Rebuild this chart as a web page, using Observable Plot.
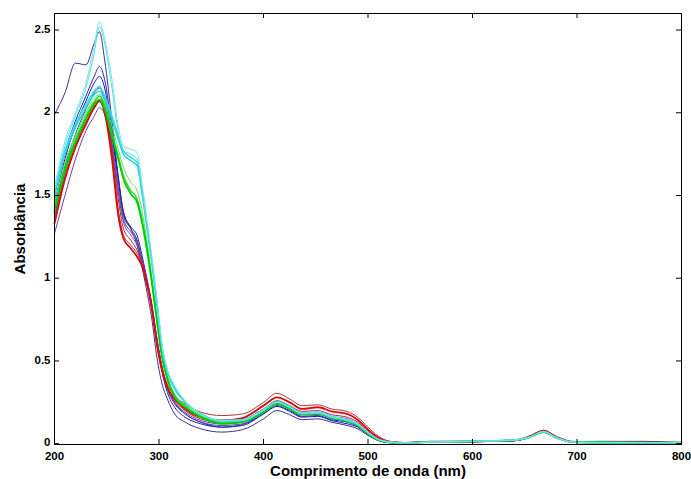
<!DOCTYPE html>
<html>
<head>
<meta charset="utf-8">
<script src="https://cdn.jsdelivr.net/npm/d3@7"></script>
<script src="https://cdn.jsdelivr.net/npm/@observablehq/plot@0.6"></script>
<style>
  html, body { margin: 0; padding: 0; background: white; }
</style>
</head>
<body>
<div id="chart"></div>
<script>
// Wavelength grid (nm)
const wavelengths = [200,210,220,230,238, 243,248,255,261,266, 273,279,284,289,293, 298,303,308,315,325,
  340,360,380,400,413, 425,437,452,465,480, 490,500,510,520,535, 560,600,640,655,668, 680,695,720,765,800];

// Absorbance spectra
const R1 = [1.33,1.60,1.79,1.93,2.03, 2.07,2.00,1.72,1.38,1.24, 1.18,1.13,1.07,0.95,0.82, 0.60,0.44,0.34,0.27,0.21, 0.16,0.14,0.155,0.23,0.28, 0.25,0.21,0.22,0.195,0.18, 0.145,0.085,0.035,0.012,0.005, 0.012,0.013,0.02,0.045,0.078, 0.042,0.012,0.008,0.007,0.006];
const R2 = [1.36,1.62,1.80,1.94,2.04, 2.08,2.02,1.76,1.42,1.26, 1.20,1.15,1.08,0.96,0.83, 0.62,0.46,0.36,0.29,0.24, 0.19,0.17,0.18,0.25,0.305, 0.27,0.23,0.235,0.21,0.195, 0.16,0.10,0.045,0.015,0.006, 0.012,0.014,0.02,0.046,0.081, 0.043,0.012,0.008,0.007,0.006];
const R3 = [1.38,1.64,1.82,1.96,2.06, 2.10,2.04,1.78,1.48,1.30, 1.23,1.17,1.09,0.97,0.84, 0.62,0.45,0.34,0.26,0.20, 0.15,0.13,0.145,0.21,0.26, 0.23,0.195,0.20,0.175,0.16, 0.13,0.075,0.03,0.01,0.005, 0.011,0.013,0.019,0.042,0.076, 0.04,0.011,0.008,0.007,0.006];
const R4 = [1.27,1.50,1.72,1.89,1.98, 2.03,1.99,1.80,1.52,1.34, 1.26,1.20,1.10,0.97,0.84, 0.63,0.46,0.34,0.25,0.19, 0.14,0.12,0.13,0.20,0.25, 0.22,0.185,0.19,0.165,0.15, 0.12,0.07,0.028,0.01,0.005, 0.011,0.013,0.019,0.041,0.074, 0.039,0.011,0.008,0.007,0.006];
const R5 = [1.42,1.68,1.87,2.02,2.12, 2.15,2.08,1.82,1.55,1.36, 1.28,1.22,1.10,0.96,0.83, 0.62,0.45,0.33,0.24,0.18, 0.13,0.11,0.12,0.19,0.24, 0.21,0.175,0.18,0.155,0.14, 0.11,0.065,0.025,0.009,0.004, 0.011,0.012,0.018,0.04,0.072, 0.038,0.01,0.008,0.007,0.006];
const R6 = [1.50,1.76,1.95,2.10,2.22, 2.28,2.20,1.90,1.60,1.38, 1.30,1.23,1.10,0.96,0.82, 0.60,0.43,0.31,0.22,0.16, 0.12,0.10,0.11,0.18,0.23, 0.20,0.165,0.17,0.145,0.13, 0.105,0.06,0.022,0.008,0.004, 0.011,0.012,0.018,0.04,0.071, 0.037,0.01,0.008,0.007,0.006];
const R7 = [1.99,2.12,2.30,2.29,2.42, 2.49,2.32,1.95,1.62,1.40, 1.30,1.20,1.06,0.90,0.76, 0.52,0.36,0.27,0.18,0.13, 0.09,0.07,0.085,0.15,0.20, 0.175,0.145,0.15,0.13,0.11, 0.09,0.05,0.018,0.006,0.003, 0.01,0.012,0.018,0.038,0.068, 0.035,0.012,0.014,0.014,0.006];
const R8 = [1.45,1.72,1.92,2.07,2.18, 2.22,2.15,1.86,1.60,1.40, 1.31,1.26,1.13,0.98,0.85, 0.64,0.46,0.34,0.25,0.18, 0.13,0.10,0.115,0.18,0.225, 0.195,0.16,0.165,0.14,0.12, 0.10,0.055,0.02,0.007,0.004, 0.011,0.012,0.018,0.04,0.071, 0.037,0.01,0.008,0.007,0.006];
const G1 = [1.40,1.65,1.82,1.96,2.05, 2.08,2.02,1.86,1.72,1.60, 1.51,1.46,1.33,1.15,0.98, 0.74,0.52,0.39,0.28,0.22, 0.16,0.12,0.13,0.19,0.24, 0.21,0.175,0.18,0.155,0.135, 0.11,0.06,0.022,0.008,0.004, 0.011,0.014,0.021,0.04,0.072, 0.037,0.01,0.007,0.006,0.006];
const G2 = [1.42,1.67,1.84,1.98,2.07, 2.10,2.04,1.88,1.74,1.62, 1.53,1.48,1.35,1.17,0.99, 0.75,0.53,0.40,0.29,0.23, 0.165,0.125,0.135,0.195,0.245, 0.215,0.18,0.185,0.16,0.14, 0.115,0.065,0.024,0.009,0.004, 0.011,0.014,0.021,0.04,0.072, 0.037,0.01,0.007,0.006,0.006];
const G3 = [1.45,1.70,1.86,2.00,2.09, 2.11,2.06,1.92,1.78,1.67, 1.58,1.53,1.40,1.20,1.02, 0.77,0.54,0.40,0.30,0.23, 0.17,0.125,0.135,0.20,0.245, 0.215,0.18,0.185,0.16,0.14, 0.115,0.065,0.024,0.009,0.004, 0.011,0.014,0.021,0.04,0.072, 0.037,0.01,0.007,0.006,0.006];
const C1 = [1.50,1.75,1.91,2.03,2.11, 2.13,2.08,1.96,1.84,1.75, 1.71,1.68,1.50,1.28,1.10, 0.84,0.57,0.43,0.33,0.25, 0.18,0.135,0.14,0.20,0.25, 0.22,0.18,0.185,0.16,0.14, 0.115,0.065,0.025,0.01,0.004, 0.01,0.014,0.022,0.04,0.072, 0.037,0.01,0.007,0.006,0.006];
const C2 = [1.52,1.77,1.93,2.05,2.13, 2.16,2.10,1.98,1.86,1.77, 1.73,1.70,1.52,1.30,1.11, 0.85,0.58,0.44,0.34,0.25, 0.18,0.14,0.145,0.205,0.255, 0.225,0.185,0.19,0.165,0.145, 0.12,0.068,0.026,0.01,0.004, 0.01,0.014,0.022,0.04,0.073, 0.037,0.01,0.007,0.006,0.006];
const C3 = [1.52,1.80,1.98,2.15,2.36, 2.52,2.42,2.15,1.88,1.77, 1.75,1.72,1.53,1.30,1.12, 0.86,0.58,0.44,0.34,0.25, 0.18,0.135,0.14,0.20,0.25, 0.22,0.18,0.185,0.16,0.14, 0.115,0.065,0.025,0.01,0.004, 0.01,0.014,0.022,0.04,0.072, 0.037,0.01,0.007,0.006,0.006];
const C4 = [1.55,1.83,2.00,2.18,2.40, 2.55,2.45,2.20,1.92,1.80, 1.78,1.76,1.56,1.33,1.14, 0.88,0.60,0.45,0.35,0.26, 0.18,0.14,0.145,0.205,0.25, 0.22,0.185,0.19,0.165,0.145, 0.12,0.068,0.026,0.01,0.004, 0.01,0.014,0.022,0.04,0.072, 0.037,0.01,0.007,0.006,0.006];

const xTicks = [200, 300, 400, 500, 600, 700, 800];
const yTicks = [0, 0.5, 1, 1.5, 2, 2.5];

const seriesList = [
  {name: "R8", values: R8, color: "#1414cc", width: 1},
  {name: "R7", values: R7, color: "#3c2e8e", width: 1},
  {name: "R6", values: R6, color: "#25259e", width: 1},
  {name: "R5", values: R5, color: "#5040aa", width: 1},
  {name: "R4", values: R4, color: "#7a3c9a", width: 1},
  {name: "R3", values: R3, color: "#a0285e", width: 1},
  {name: "R2", values: R2, color: "#b03434", width: 1},
  {name: "R1", values: R1, color: "#dd0808", width: 1.8},
  {name: "G3", values: G3, color: "#66d866", width: 1},
  {name: "G2", values: G2, color: "#22e022", width: 1.3},
  {name: "G1", values: G1, color: "#00cc00", width: 1.8},
  {name: "C1", values: C1, color: "#22d0d0", width: 1.5},
  {name: "C2", values: C2, color: "#33dde0", width: 1.5},
  {name: "C3", values: C3, color: "#55dde0", width: 1},
  {name: "C4", values: C4, color: "#77e4ee", width: 1}
];

seriesList.forEach(s => { if (s.values.length !== wavelengths.length) console.error("length mismatch", s.name, s.values.length); });

const lineMarks = seriesList.map(s =>
  Plot.line(s.values.map((v, i) => ({nm: wavelengths[i], A: v})), {
    x: "nm", y: "A", stroke: s.color, strokeWidth: s.width, curve: "monotone-x"
  })
);

// frame inner size: 691-54-10 = 627 wide, 479-13-35 = 431 tall; ticks are 5px long, inward
const tickLen = 5;
const chart = Plot.plot({
  width: 691,
  height: 479,
  marginLeft: 54,
  marginRight: 10,
  marginTop: 13,
  marginBottom: 35,
  style: {fontFamily: '"Liberation Sans", Arial, sans-serif', fontWeight: "bold", fontSize: "12px", background: "white", color: "black"},
  x: {domain: [200, 800]},
  y: {domain: [-0.005, 2.6]},
  marks: [
    ...lineMarks,
    Plot.frame({stroke: "black", strokeWidth: 1}),
    Plot.tickX(xTicks, {x: d => d, stroke: "black", insetTop: 431 - tickLen}),
    Plot.tickX(xTicks, {x: d => d, stroke: "black", insetBottom: 431 - tickLen}),
    Plot.tickY(yTicks, {y: d => d, stroke: "black", insetRight: 627 - tickLen}),
    Plot.tickY(yTicks, {y: d => d, stroke: "black", insetLeft: 627 - tickLen}),
    Plot.axisX({anchor: "bottom", ticks: xTicks, tickSize: 0, tickPadding: 7, tickFormat: d => String(d), label: null, fontSize: 11.5}),
    Plot.axisY({anchor: "left", ticks: yTicks, tickSize: 0, tickPadding: 4, dy: -1, tickFormat: d => String(d), label: null, fontSize: 11.5}),
    Plot.text(["Comprimento de onda (nm)"], {frameAnchor: "bottom", textAnchor: "middle", dy: 31, fontSize: 15, fontWeight: "bold"}),
    Plot.text(["Absorbância"], {frameAnchor: "left", textAnchor: "middle", dx: -34, rotate: -90, fontSize: 15, fontWeight: "bold"})
  ]
});

document.getElementById("chart").appendChild(chart);
</script>
</body>
</html>
